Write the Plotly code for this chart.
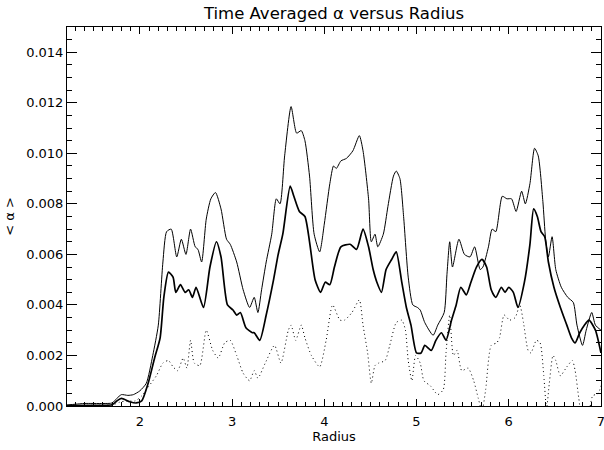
import plotly.graph_objects as go

# ---- data ----
upper_r = [1.21, 1.30, 1.40, 1.60, 1.70, 1.75, 1.80, 1.87, 1.93, 2.00, 2.07, 2.14, 2.20, 2.25, 2.29,
           2.34, 2.40, 2.45, 2.50, 2.55, 2.60, 2.63, 2.67, 2.72, 2.77, 2.82, 2.88, 2.94, 2.98, 3.05,
           3.12, 3.19, 3.24, 3.28, 3.32, 3.37, 3.43, 3.48, 3.52, 3.57, 3.64, 3.70, 3.75, 3.79, 3.84,
           3.89, 3.95, 4.00, 4.06, 4.10, 4.13, 4.18, 4.24, 4.31, 4.38, 4.42, 4.48, 4.51, 4.55, 4.58,
           4.64, 4.69, 4.75, 4.78, 4.82, 4.86, 4.91, 4.96, 5.01, 5.04, 5.09, 5.18, 5.23, 5.30, 5.33,
           5.36, 5.39, 5.46, 5.52, 5.58, 5.63, 5.69, 5.72, 5.78, 5.82, 5.86, 5.93, 5.98, 6.03, 6.08,
           6.14, 6.18, 6.23, 6.28, 6.32, 6.37, 6.40, 6.43, 6.47, 6.51, 6.57, 6.64, 6.70, 6.74, 6.80,
           6.84, 6.90, 6.94, 7.00]
upper_a = [0.00004, 0.00007, 0.0001, 0.0001, 0.00012, 0.0003, 0.00045, 0.00042, 0.00045, 0.0006,
           0.0009, 0.0020, 0.0032, 0.0057, 0.0069, 0.0070, 0.0059, 0.0066, 0.0060, 0.0070, 0.0063,
           0.0062, 0.0057, 0.0074, 0.0082, 0.00845, 0.0078, 0.0066, 0.0064, 0.0057, 0.0046, 0.0039,
           0.0043, 0.0037, 0.0046, 0.0057, 0.0068, 0.0082, 0.0080, 0.0099, 0.01185, 0.0108, 0.0109,
           0.0105, 0.0091, 0.0068, 0.0061, 0.0072, 0.0088, 0.0095, 0.0094, 0.0097, 0.0098, 0.0101,
           0.0107, 0.0101, 0.0082, 0.0065, 0.0068, 0.0063, 0.0068, 0.0079, 0.0091, 0.0093, 0.0090,
           0.0075, 0.0051, 0.0040, 0.0039, 0.0038, 0.0033, 0.0028, 0.0032, 0.0037, 0.0052, 0.0065,
           0.0055, 0.0066, 0.0060, 0.0059, 0.0063, 0.0054, 0.0055, 0.0063, 0.0070, 0.0069, 0.0083,
           0.0082, 0.0082, 0.0077, 0.0085, 0.0080, 0.0088, 0.0102, 0.0099, 0.0081, 0.0066, 0.0059,
           0.0067, 0.0054, 0.0047, 0.0043, 0.0041, 0.0032, 0.0024, 0.0030, 0.0037, 0.0032, 0.0030]

middle_r = [1.21, 1.50, 1.70, 1.75, 1.80, 1.89, 1.96, 2.02, 2.09, 2.16, 2.22, 2.26, 2.31, 2.36, 2.39,
            2.44, 2.49, 2.53, 2.57, 2.61, 2.69, 2.76, 2.83, 2.88, 2.95, 3.01, 3.05, 3.09, 3.15, 3.22,
            3.24, 3.30, 3.37, 3.45, 3.50, 3.55, 3.63, 3.67, 3.73, 3.79, 3.84, 3.90, 3.96, 4.01, 4.06,
            4.11, 4.18, 4.28, 4.35, 4.42, 4.48, 4.53, 4.57, 4.62, 4.67, 4.73, 4.78, 4.84, 4.89, 4.94,
            5.00, 5.05, 5.09, 5.16, 5.21, 5.27, 5.32, 5.38, 5.43, 5.48, 5.54, 5.59, 5.65, 5.71, 5.76,
            5.81, 5.86, 5.92, 5.96, 6.00, 6.05, 6.10, 6.17, 6.23, 6.27, 6.31, 6.35, 6.39, 6.43, 6.49,
            6.56, 6.63, 6.68, 6.72, 6.77, 6.82, 6.87, 6.94, 7.00]
middle_a = [0.00002, 0.00003, 0.00005, 0.0002, 0.0003, 0.00017, 0.00012, 0.0002, 0.0009, 0.0019,
            0.0027, 0.0043, 0.0053, 0.0051, 0.0045, 0.0048, 0.0045, 0.0046, 0.0043, 0.0047, 0.0039,
            0.0055, 0.0065, 0.0059, 0.0040, 0.0038, 0.0036, 0.0037, 0.0031, 0.0029, 0.0029, 0.0026,
            0.0036, 0.0050, 0.0060, 0.0068, 0.0087, 0.0083, 0.0077, 0.0075, 0.0065, 0.0050, 0.0045,
            0.0049, 0.0048, 0.0055, 0.0063, 0.0064, 0.0062, 0.0070, 0.0063, 0.0054, 0.0049, 0.0045,
            0.0054, 0.0058, 0.0061, 0.0049, 0.0039, 0.0032, 0.0021, 0.0021, 0.0024, 0.0022, 0.0026,
            0.0029, 0.0026, 0.0034, 0.0040, 0.0047, 0.0044, 0.0049, 0.0055, 0.0058, 0.0055, 0.0046,
            0.0043, 0.0047, 0.0045, 0.0047, 0.0045, 0.0039, 0.0049, 0.0064, 0.0078, 0.0075, 0.0069,
            0.0067, 0.0057, 0.0047, 0.0039, 0.0032, 0.0027, 0.0025, 0.0029, 0.0032, 0.0034, 0.0030,
            0.0021]

dotted_r = [1.21, 1.50, 1.70, 1.78, 1.85, 1.95, 2.02, 2.08, 2.18, 2.25, 2.31, 2.36, 2.41, 2.47, 2.51,
            2.55, 2.59, 2.65, 2.72, 2.79, 2.85, 2.92, 2.98, 3.05, 3.12, 3.19, 3.24, 3.28, 3.36, 3.46,
            3.53, 3.61, 3.64, 3.69, 3.75, 3.79, 3.86, 3.95, 4.02, 4.09, 4.17, 4.22, 4.30, 4.38, 4.42,
            4.47, 4.51, 4.55, 4.59, 4.66, 4.71, 4.78, 4.84, 4.88, 4.91, 4.95, 4.99, 5.04, 5.08, 5.15,
            5.23, 5.29, 5.32, 5.36, 5.40, 5.44, 5.49, 5.56, 5.62, 5.67, 5.71, 5.75, 5.81, 5.87, 5.90,
            5.95, 6.01, 6.07, 6.12, 6.16, 6.21, 6.24, 6.30, 6.34, 6.38, 6.41, 6.44, 6.48, 6.51, 6.56,
            6.63, 6.69, 6.72, 6.76, 6.80, 6.86, 6.91, 6.97, 7.00]
dotted_a = [0.00002, 0.00003, 0.00004, 0.00015, 0.0002, 0.0002, 0.0004, 0.0007, 0.0012, 0.0017,
            0.0018, 0.00155, 0.0014, 0.0019, 0.0015, 0.0026, 0.0017, 0.0016, 0.0030, 0.0022, 0.0019,
            0.0025, 0.0026, 0.0020, 0.0013, 0.0010, 0.0014, 0.0011, 0.0017, 0.0024, 0.0017, 0.0030,
            0.0032, 0.0026, 0.0032, 0.0027, 0.0020, 0.00155, 0.0026, 0.0040, 0.0034, 0.0034, 0.0037,
            0.0042, 0.0032, 0.0021, 0.0009, 0.0016, 0.0017, 0.0018, 0.0024, 0.0033, 0.0034, 0.0030,
            0.0018, 0.0010, 0.0020, 0.0017, 0.0010, 0.0008, 0.00045, 0.00065, 0.0021, 0.0036, 0.0020,
            0.0022, 0.0014, 0.0015, 0.0010, 0.0003, -0.0002, 0.00065, 0.0024, 0.0025, 0.0027, 0.0036,
            0.0034, 0.0035, 0.0040, 0.0033, 0.0022, 0.0021, 0.0026, 0.0025, 0.0012, -0.0001, 0.0009,
            0.0020, 0.0018, 0.0012, 0.00155, 0.0018, 0.0014, 0.0003, -0.0006, -0.0004, 0.0004, 0.0005,
            0.0008]

x_range = [1.21, 7.0005]
y_range = [0, 0.015]

title_text = "Time Averaged \u03b1 versus Radius"
x_title = "Radius"
y_title = "< \u03b1 >"

FONT = "DejaVu Sans"

fig = go.Figure()
fig.add_trace(go.Scatter(x=upper_r, y=upper_a, mode="lines",
                         line=dict(color="black", width=1, shape="spline", smoothing=0.6),
                         showlegend=False))
fig.add_trace(go.Scatter(x=middle_r, y=middle_a, mode="lines",
                         line=dict(color="black", width=1.7, shape="spline", smoothing=0.6),
                         showlegend=False))
fig.add_trace(go.Scatter(x=dotted_r, y=dotted_a, mode="lines",
                         line=dict(color="black", width=1, dash="1px,3px", shape="spline", smoothing=0.6),
                         showlegend=False))
# empty trace so the mirrored (top/right) tick axes are drawn
fig.add_trace(go.Scatter(x=[None], y=[None], xaxis="x2", yaxis="y2", mode="lines",
                         showlegend=False, hoverinfo="skip"))

fig.update_layout(
    width=604, height=450,
    margin=dict(l=67, r=3, t=27, b=44, autoexpand=False),
    paper_bgcolor="white", plot_bgcolor="white",
    font=dict(family=FONT, size=13, color="black"),
    title=dict(text=title_text, x=0.5, xref="paper", xanchor="center",
               y=1 - 13 / 450, yanchor="middle",
               font=dict(family=FONT, size=16.5, color="black")),
)

xcommon = dict(range=x_range, tick0=2, dtick=1, ticks="inside", ticklen=7, tickwidth=1,
               tickcolor="black",
               minor=dict(dtick=0.1, tick0=2, ticks="inside", ticklen=4, tickcolor="black", tickwidth=1),
               showline=True, linecolor="black", linewidth=1, showgrid=False, zeroline=False)
ycommon = dict(range=y_range, tick0=0, dtick=0.002, ticks="inside", ticklen=10, tickwidth=1,
               tickcolor="black",
               minor=dict(dtick=0.0005, tick0=0, ticks="inside", ticklen=5, tickcolor="black", tickwidth=1),
               showline=True, linecolor="black", linewidth=1, showgrid=False, zeroline=False)

fig.update_layout(
    xaxis=dict(**xcommon, tickfont=dict(family=FONT, size=13), ticklabeloverflow="allow",
               ticklabelstandoff=3,
               title=dict(text=x_title, standoff=3, font=dict(family=FONT, size=13)),
               automargin=False),
    yaxis=dict(**ycommon, tickformat=".3f", tickfont=dict(family=FONT, size=13),
               ticklabeloverflow="allow",
               title=dict(text=y_title, standoff=8, font=dict(family=FONT, size=13)),
               automargin=False),
    xaxis2=dict(**xcommon, overlaying="x", side="top", showticklabels=False, matches="x"),
    yaxis2=dict(**ycommon, overlaying="y", side="right", showticklabels=False, matches="y"),
)

fig.write_html("out.html",
               config={"displayModeBar": False},
               post_script="document.body.style.margin='0px';document.body.style.overflow='hidden';")
